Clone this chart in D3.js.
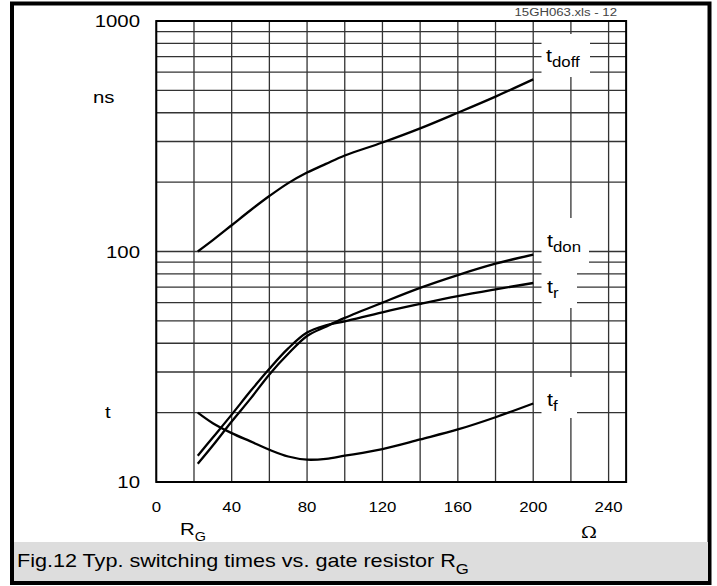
<!DOCTYPE html>
<html>
<head>
<meta charset="utf-8">
<script src="https://cdn.jsdelivr.net/npm/d3@7"></script>
<style>
  body { margin: 0; background: #fff; }
  svg { display: block; font-family: "Liberation Sans", Arial, sans-serif; }
</style>
</head>
<body>
<svg id="chart" width="717" height="586"></svg>
<script>
// Данные графика
const rg = [22, 30, 40, 50, 60, 70, 80, 90, 100, 120, 140, 160, 180, 200];
const tDoff = [100, 112, 130, 151, 174, 198, 220, 240, 261, 297, 342, 400, 470, 558];
const tDon = [12, 14.4, 18.3, 23, 29.3, 36, 43, 47.2, 51.5, 60, 69.5, 79, 88.5, 97];
const tR = [13, 15.6, 19.6, 24.8, 31, 38, 44.5, 47.8, 49.8, 54.5, 59.2, 64, 68.5, 73];
const tF = [20, 18, 16.3, 15, 13.8, 12.9, 12.5, 12.6, 13, 13.9, 15.3, 16.9, 19.1, 21.9];

const xTicks = [0, 40, 80, 120, 160, 200, 240];
const yTickLabels = [1000, 100, 10];
const series = [
    { name: 'doff', values: tDoff },
    { name: 'don', values: tDon },
    { name: 'r', values: tR },
    { name: 'f', values: tF }
];

const svg = d3.select('#chart');
const stretch = 1.2; // шрифт в оригинале растянут по горизонтали

// Шкалы
const x = d3.scaleLinear().domain([0, 240]).range([156.3, 608.6]);
const y = d3.scaleLog().domain([10, 1000]).range([482, 21]);
const xRight = x(249.3); // правая граница поля графика

// Внешняя рамка и подпись
svg.append('rect').attr('x', 12).attr('y', 3.5).attr('width', 697.5).attr('height', 579.5)
    .attr('fill', '#fff').attr('stroke', '#000').attr('stroke-width', 4);
svg.append('rect').attr('x', 14).attr('y', 542).attr('width', 694).attr('height', 39)
    .attr('fill', '#dddddd');

function addText(px, py, size, anchor) {
    return svg.append('text')
        .attr('transform', `translate(${px},${py}) scale(${stretch},1)`)
        .attr('font-size', size)
        .attr('text-anchor', anchor || 'start')
        .attr('fill', '#000');
}

// Сетка
const gridX = d3.range(0, 241, 20);
const gridY = d3.range(10, 100, 10).concat(d3.range(100, 1000, 100), [1000]);

svg.append('g').selectAll('line').data(gridX).enter().append('line')
    .attr('x1', d => x(d)).attr('x2', d => x(d))
    .attr('y1', y(1000)).attr('y2', y(10))
    .attr('stroke', '#333').attr('stroke-width', 1.3);

svg.append('g').selectAll('line').data(gridY).enter().append('line')
    .attr('x1', x(0)).attr('x2', xRight)
    .attr('y1', d => y(d)).attr('y2', d => y(d))
    .attr('stroke', '#333').attr('stroke-width', 1.3);

// Белые подложки под подписями кривых
const labelBoxes = [
    { x0: 541.5, x1: 590, y0: 34, y1: 77 },
    { x0: 541.5, x1: 589, y0: 218, y1: 266 },
    { x0: 541.5, x1: 577, y0: 266, y1: 308 },
    { x0: 541.5, x1: 577, y0: 377, y1: 418 }
];
svg.append('g').selectAll('rect').data(labelBoxes).enter().append('rect')
    .attr('x', d => d.x0).attr('y', d => d.y0)
    .attr('width', d => d.x1 - d.x0).attr('height', d => d.y1 - d.y0)
    .attr('fill', '#fff');

// Рамка поля
svg.append('rect')
    .attr('x', x(0)).attr('y', y(1000))
    .attr('width', xRight - x(0)).attr('height', y(10) - y(1000))
    .attr('fill', 'none').attr('stroke', '#000').attr('stroke-width', 2);

// Кривые
const line = d3.line()
    .x((d, i) => x(rg[i]))
    .y(d => y(d))
    .curve(d3.curveCatmullRom.alpha(0.5));

svg.append('g').selectAll('path').data(series).enter().append('path')
    .attr('d', d => line(d.values))
    .attr('fill', 'none').attr('stroke', '#000').attr('stroke-width', 2.3);

// Подписи кривых
const labelPos = [
    { sub: 'doff', px: 546, py: 62 },
    { sub: 'don', px: 547, py: 247 },
    { sub: 'r', px: 547, py: 293 },
    { sub: 'f', px: 547, py: 406 }
];
labelPos.forEach(l => {
    const t = addText(l.px, l.py, 18);
    t.append('tspan').text('t');
    t.append('tspan').attr('font-size', 14).attr('dy', 5).text(l.sub);
});

// Подписи оси Y
yTickLabels.forEach(v => {
    addText(140, y(v) + 6, 17, 'end').text(v);
});
addText(93, 103, 17).text('ns');
addText(105, 418, 17).text('t');

// Подписи оси X
xTicks.forEach(v => {
    addText(x(v), 512, 14, 'middle').text(v);
});
const rgLabel = addText(180, 535, 17);
rgLabel.append('tspan').text('R');
rgLabel.append('tspan').attr('font-size', 12).attr('dy', 6).text('G');
addText(589, 538, 16, 'middle').attr('font-family', '"DejaVu Serif", serif').text('Ω');

// Служебная метка
addText(617, 16, 11, 'end').attr('fill', '#444').text('15GH063.xls - 12');

// Подпись рисунка
const cap = addText(17, 567, 18);
cap.append('tspan').text('Fig.12 Typ. switching times vs. gate resistor R');
cap.append('tspan').attr('font-size', 14).attr('dy', 7).text('G');
</script>
</body>
</html>
